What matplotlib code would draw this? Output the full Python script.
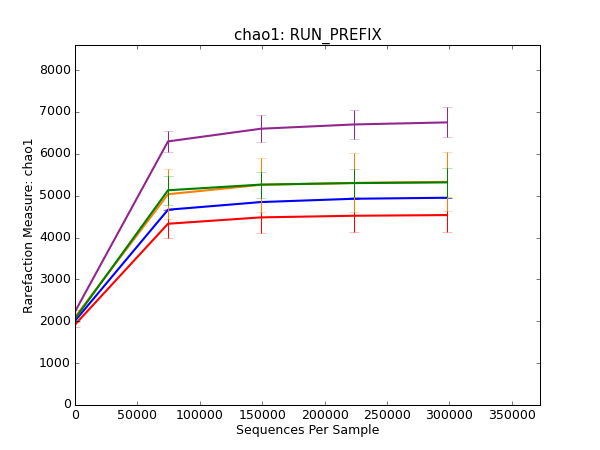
import matplotlib
matplotlib.use("Agg")
import matplotlib.pyplot as plt
import numpy as np

# --- data ---
depths = [0, 74500, 149000, 223500, 298000]

series_names = ["red", "blue", "orange", "green", "purple"]
series_colors = {
    "red": "#ff0000",
    "blue": "#0000ff",
    "orange": "#ff7f00",
    "green": "#008000",
    "purple": "#91278d",
}
chao1_mean = {
    "red": [1920, 4330, 4482, 4521, 4537],
    "blue": [2010, 4665, 4848, 4927, 4951],
    "orange": [2100, 5035, 5260, 5306, 5330],
    "green": [2060, 5130, 5265, 5301, 5318],
    "purple": [2230, 6297, 6600, 6702, 6751],
}
chao1_err = {
    "red": [60, 342, 380, 400, 414],
    "blue": [0, 0, 0, 0, 0],
    "orange": [80, 593, 645, 705, 705],
    "green": [40, 350, 310, 330, 350],
    "purple": [50, 250, 322, 342, 358],
}

plt.style.use("classic")
fig = plt.figure(figsize=(8, 6), dpi=75, facecolor="white")
ax = fig.add_subplot(111)

for name in series_names:
    c = series_colors[name]
    ax.plot(depths, chao1_mean[name], color=c, linewidth=2)
    _, caps, bars = ax.errorbar(depths, chao1_mean[name], yerr=chao1_err[name],
                                fmt="none", ecolor=c, elinewidth=1, capsize=5)
    for cap in caps:
        cap.set_alpha(0.5)

ax.set_xlim(0, 372500)
ax.set_ylim(0, 8600)
ax.set_xticks(np.arange(0, 350001, 50000))
ax.set_yticks(np.arange(0, 8001, 1000))
ax.set_title("chao1: RUN_PREFIX")
ax.set_xlabel("Sequences Per Sample", labelpad=2)
ax.set_ylabel("Rarefaction Measure: chao1", labelpad=3)

fig.savefig("out.png", dpi=75, facecolor="white")
